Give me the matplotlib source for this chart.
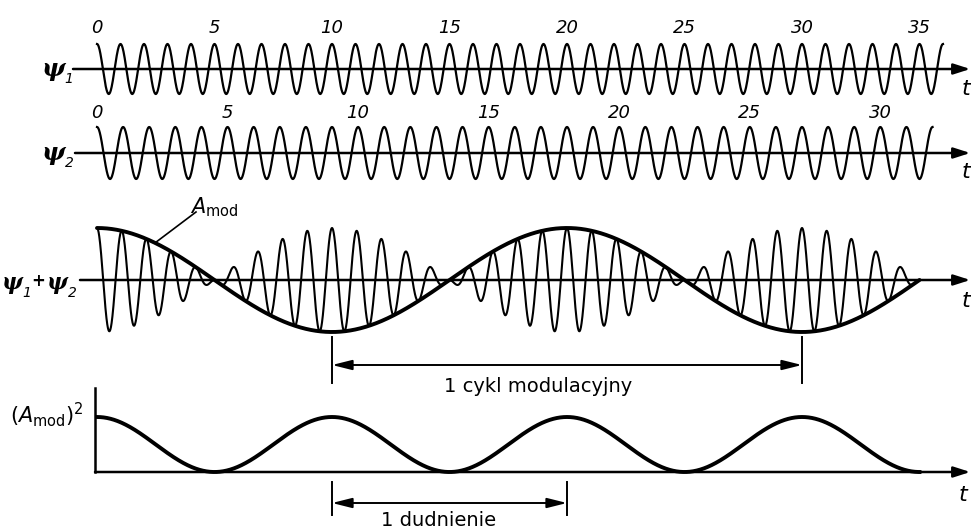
import numpy as np
import matplotlib.pyplot as plt

# carrier frequencies (cycles per unit of t, t counted in psi1 periods)
f1 = 1.0
f2 = 0.9
psi1_cycles = 36
psi2_cycles = 32
psi1_labels = [0, 5, 10, 15, 20, 25, 30, 35]
psi2_labels = [0, 5, 10, 15, 20, 25, 30]
sum_end = 35
cycle_span = [10, 30]   # 1 cykl modulacyjny
beat_span = [10, 20]    # 1 dudnienie

W, H = 971, 531
X0 = 97          # pixel column of t = 0
PX_T = 23.5      # pixels per unit t
xlim = (-X0 / PX_T, (W - X0) / PX_T)

fig = plt.figure(figsize=(W / 100, H / 100), dpi=100)


def panel(c, k, h):
    ax = fig.add_axes([0, 1 - (c + h) / H, 1, 2 * h / H])
    ax.set_xlim(xlim)
    ax.set_ylim(-h / k, h / k)
    ax.axis('off')
    ax.patch.set_alpha(0)
    return ax


def tx(px):
    return (px - X0) / PX_T


def axis_arrow(ax, t0):
    ax.annotate('', xy=(xlim[1] - 0.03, 0), xytext=(t0, 0),
                arrowprops=dict(arrowstyle='-|>,head_length=1.0,head_width=0.32',
                                lw=1.8, color='k', mutation_scale=10,
                                shrinkA=0, shrinkB=0))


def bracket(ax, span, y, y0, y1, text, t_text, y_text):
    ax.annotate('', xy=(span[1], y), xytext=(span[0], y), annotation_clip=False,
                arrowprops=dict(arrowstyle='<|-|>,head_length=1.2,head_width=0.3',
                                lw=1.4, color='k', mutation_scale=10,
                                shrinkA=0, shrinkB=0))
    for s in span:
        ax.plot([s, s], [y0, y1], color='k', lw=1.4, clip_on=False)
    ax.text(t_text, y_text, text, fontsize=14, ha='center', va='center')


def psi(x, y, sub, size=18, dx=16):
    fig.text(x / W, 1 - y / H, 'ψ', fontsize=size, weight='bold', style='italic',
             family='DejaVu Serif', ha='center', va='center')
    fig.text((x + dx) / W, 1 - (y + 10) / H, sub, fontsize=10, style='italic',
             ha='center', va='center')


# psi1
ax1 = panel(69, 25, 45)
t1 = np.linspace(0, psi1_cycles / f1, 3000)
ax1.plot(t1, np.cos(2 * np.pi * f1 * t1), color='k', lw=1.6, clip_on=False)
axis_arrow(ax1, tx(73))
for n in psi1_labels:
    ax1.text(n / f1, (69 - 28) / 25, str(n), fontsize=13, style='italic',
             ha='center', va='center')
ax1.text(tx(966), -0.8, 't', fontsize=16, style='italic', ha='center', va='center')

# psi2
ax2 = panel(153, 26, 45)
t2 = np.linspace(0, psi2_cycles / f2, 3000)
ax2.plot(t2, np.cos(2 * np.pi * f2 * t2), color='k', lw=1.6, clip_on=False)
axis_arrow(ax2, tx(75))
for n in psi2_labels:
    ax2.text(n / f2, (153 - 113) / 26, str(n), fontsize=13, style='italic',
             ha='center', va='center')
ax2.text(tx(966), -0.75, 't', fontsize=16, style='italic', ha='center', va='center')

# psi1 + psi2
ax3 = panel(280, 26, 60)
ts = np.linspace(0, sum_end, 4000)
total = np.cos(2 * np.pi * f1 * ts) + np.cos(2 * np.pi * f2 * ts)
env = 2 * np.cos(np.pi * (f1 - f2) * ts)
ax3.plot(ts, total, color='k', lw=1.5, clip_on=False)
ax3.plot(ts, env, color='k', lw=2.8, solid_capstyle='round', clip_on=False)
axis_arrow(ax3, tx(80))
ax3.text(tx(966), -0.8, 't', fontsize=16, style='italic', ha='center', va='center')
t_lead = 2.47
ax3.plot([tx(196), t_lead], [(280 - 212) / 26, 2 * np.cos(np.pi * (f1 - f2) * t_lead)],
         color='k', lw=1.2, clip_on=False)
fig.text(190 / W, 1 - 207 / H, r'$A_{\rm mod}$', fontsize=15, ha='left', va='center')
bracket(ax3, cycle_span, -(365 - 280) / 26, -(337 - 280) / 26, -(383 - 280) / 26,
        '1 cykl modulacyjny', tx(538), -(386 - 280) / 26)

# (A_mod)^2
ax4 = panel(472, 13.75, 55)
ax4.plot(ts, env ** 2, color='k', lw=2.8, clip_on=False)
axis_arrow(ax4, tx(95))
ax4.plot([tx(95), tx(95)], [0, (472 - 388) / 13.75], color='k', lw=1.8, clip_on=False)
ax4.text(tx(963), -(495 - 472) / 13.75, 't', fontsize=16, style='italic',
         ha='center', va='center')
bracket(ax4, beat_span, -(503 - 472) / 13.75, -(482 - 472) / 13.75, -(515 - 472) / 13.75,
        '1 dudnienie', tx(439), -(521 - 472) / 13.75)

psi(53, 69, '1')
psi(53, 153, '2')
psi(12, 283, '1', 16, 15)
fig.text(38 / W, 1 - 281 / H, '+', fontsize=12, weight='bold', ha='center', va='center')
psi(57, 283, '2', 16, 15)
fig.text(10 / W, 1 - 415 / H, r'$(A_{\rm mod})^2$', fontsize=15, ha='left', va='center')

fig.savefig('out.png', dpi=100, facecolor='white')
